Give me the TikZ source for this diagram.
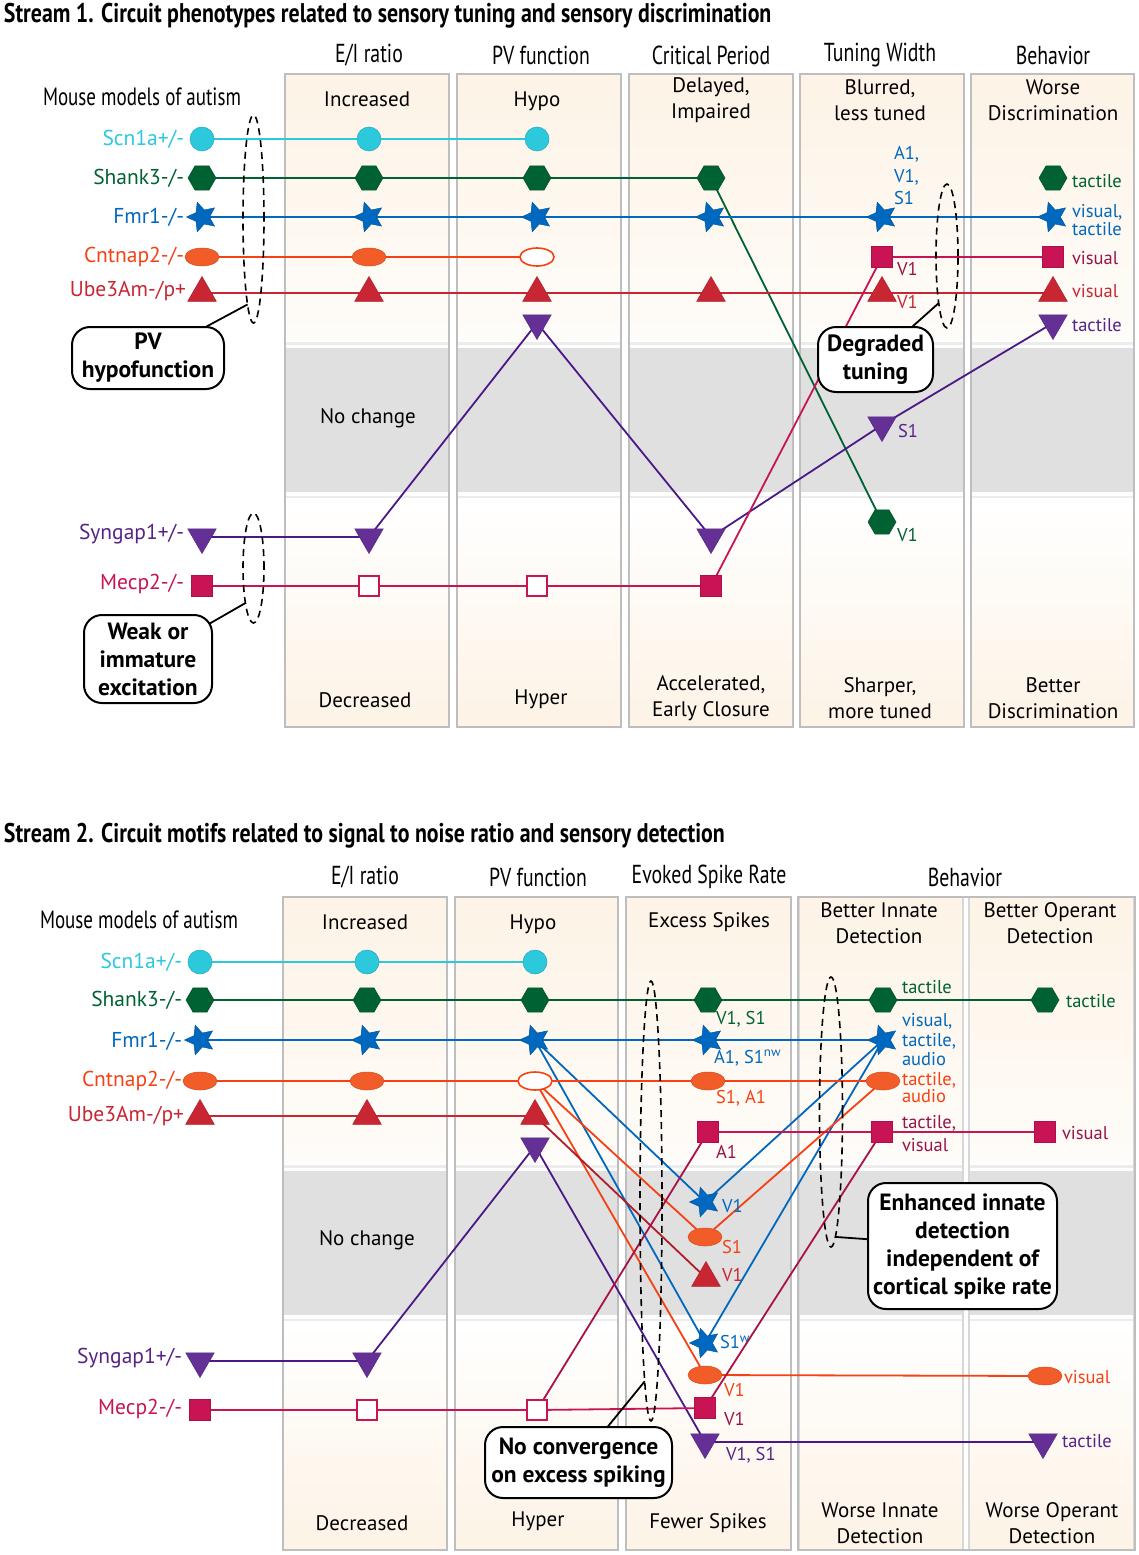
\documentclass[tikz,border=0pt]{standalone}
\usepackage{fontspec}
\setmainfont{PT Sans}
\newfontfamily\condf[FakeStretch=0.76]{PT Sans}
\newfontfamily\titf[FakeStretch=0.81]{PT Sans}
\usetikzlibrary{shapes.geometric}
\newcommand\fsz[2]{\fontsize{#1}{#2}\selectfont}
\definecolor{cScn}{RGB}{44,200,220}
\definecolor{cSha}{RGB}{0,98,50}
\definecolor{cFmr}{RGB}{0,104,190}
\definecolor{cCnt}{RGB}{242,92,40}
\definecolor{cCntL}{RGB}{245,65,20}
\definecolor{cUbe}{RGB}{200,38,50}
\definecolor{cSyn}{RGB}{100,48,150}
\definecolor{cSynL}{RGB}{75,25,135}
\definecolor{cMec}{RGB}{200,20,85}
\definecolor{tMec}{RGB}{150,20,75}
\definecolor{tSyn}{RGB}{85,35,135}
\definecolor{beige}{RGB}{253,243,230}
\definecolor{band}{RGB}{224,224,224}
\definecolor{sepc}{RGB}{236,236,236}
\definecolor{boxgray}{RGB}{190,190,190}
\definecolor{subgray}{RGB}{215,215,215}
\pgfdeclarelayer{bg}
\pgfdeclarelayer{lines}
\pgfsetlayers{bg,lines,main}
\newcommand\colbg[4]{%
 \fill[top color=beige, bottom color=beige!25!white] (#1,74+#3) rectangle (#2,340+#3);
 \draw[sepc, line width=2.5pt] (#1,343.5+#3) -- (#2,343.5+#3);
 \fill[band] (#1,348+#3) rectangle (#2,492+#3);
 \draw[sepc, line width=2.5pt] (#1,497+#3) -- (#2,497+#3);
 \fill[top color=white, bottom color=beige] (#1,500+#3) rectangle (#2,727+#3);
 \draw[#4, line width=1.6pt] (#1,74+#3) rectangle (#2,727+#3);
}
\begin{document}
\begin{tikzpicture}[x=1pt,y=-1pt,
  every node/.style={inner sep=0pt, outer sep=0pt},
  mcirc/.style={circle, minimum size=24pt, fill=#1, draw=#1!85!black, line width=0.5pt},
  mhex/.style={regular polygon, regular polygon sides=6, minimum size=28pt, fill=#1, draw=#1!85!black, line width=0.5pt},
  mstar/.style={star, star points=5, star point ratio=2.1, minimum size=31pt, fill=#1, draw=#1!85!black, line width=0.5pt, shape border rotate=18},
  mell/.style={ellipse, minimum width=34pt, minimum height=18pt, fill=#1, draw=#1!85!black, line width=0.5pt},
  mellO/.style={ellipse, minimum width=34pt, minimum height=18pt, fill=white, draw=#1, line width=1.6pt},
  mtri/.style={regular polygon, regular polygon sides=3, minimum size=33pt, fill=#1, draw=#1!85!black, line width=0.5pt},
  mtrid/.style={mtri=#1, shape border rotate=180},
  msq/.style={rectangle, minimum size=21pt, fill=#1, draw=#1!85!black, line width=0.5pt},
  msqO/.style={rectangle, minimum size=20pt, fill=white, draw=#1, line width=1.6pt},
  ln/.style={draw=#1, line width=1.8pt},
  glab/.style={anchor=east, text=#1, font=\fsz{21.5}{24}},
  slab/.style={anchor=west, text=#1, font=\fsz{18.5}{20}, align=left},
  coltxt/.style={font=\fsz{21}{26}, align=center},
  hdr/.style={font=\condf\fsz{26}{30}},
  ttl/.style={anchor=west, font=\titf\bfseries\fsz{27}{30}},
  callout/.style={draw=black, line width=2pt, rounded corners=18pt, fill=white, font=\bfseries\fsz{23.5}{28}, align=center},
  dell/.style={ellipse, draw=black, line width=1.6pt, dash pattern=on 7pt off 5pt},
  cline/.style={draw=black, line width=1.8pt},
]
\useasboundingbox (0,0) rectangle (1139,1555);
\begin{pgfonlayer}{bg}
\fill[white] (0,0) rectangle (1139,1555);
% stream 1 columns
\colbg{285}{449}{0}{boxgray}
\colbg{457}{621}{0}{boxgray}
\colbg{629}{793}{0}{boxgray}
\colbg{800}{964}{0}{boxgray}
\colbg{971}{1134}{0}{boxgray}
% stream 2 columns
\colbg{283}{447}{823}{boxgray}
\colbg{455}{618}{823}{boxgray}
\colbg{626}{791}{823}{boxgray}
\colbg{799}{963}{823}{subgray}
\colbg{969}{1134}{823}{subgray}
\draw[boxgray, line width=1.6pt] (798,897) rectangle (1135,1550);
\end{pgfonlayer}

% ---------------- titles and headers
\node[ttl] (t1) at (4,16) {Stream 1. Circuit phenotypes related to sensory tuning and sensory discrimination};
\node[ttl] (t2) at (4,836) {Stream 2. Circuit motifs related to signal to noise ratio and sensory detection};
\node[hdr] (h11) at (369,55) {E/I ratio};
\node[hdr] (h12) at (541,55) {PV function};
\node[hdr] (h13) at (711,55) {Critical Period};
\node[hdr] (h14) at (880,55) {Tuning Width};
\node[hdr] (h15) at (1053,55) {Behavior};
\node[hdr] (h21) at (365,877) {E/I ratio};
\node[hdr] (h22) at (538,877) {PV function};
\node[hdr] (h23) at (709,877) {Evoked Spike Rate};
\node[hdr] (h24) at (965,877) {Behavior};
\node[hdr, font=\condf\fsz{25}{30}] (m1) at (142,97) {Mouse models of autism};
\node[hdr, font=\condf\fsz{25}{30}] (m2) at (139,920) {Mouse models of autism};

% column texts stream 1
\node[coltxt] (ct11) at (367,99) {Increased};
\node[coltxt] (ct12) at (537,101) {Hypo};
\node[coltxt] (ct13) at (711,100) {Delayed,\\Impaired};
\node[coltxt] (ct14) at (880,100) {Blurred,\\less tuned};
\node[coltxt] (ct15) at (1053,100) {Worse\\Discrimination};
\node[coltxt] (nc1) at (368,418) {No change};
\node[coltxt] (cb11) at (365,700) {Decreased};
\node[coltxt] (cb12) at (541,699) {Hyper};
\node[coltxt] (cb13) at (711,698) {Accelerated,\\Early Closure};
\node[coltxt] (cb14) at (880,698) {Sharper,\\more tuned};
\node[coltxt] (cb15) at (1053,698) {Better\\Discrimination};
% column texts stream 2
\node[coltxt] (ct21) at (365,922) {Increased};
\node[coltxt] (ct22) at (533,924) {Hypo};
\node[coltxt] (ct23) at (709,922) {Excess Spikes};
\node[coltxt] (ct24) at (879,923) {Better Innate\\Detection};
\node[coltxt] (ct25) at (1050,923) {Better Operant\\Detection};
\node[coltxt] (nc2) at (367,1240) {No change};
\node[coltxt] (cb21) at (362,1523) {Decreased};
\node[coltxt] (cb22) at (538,1521) {Hyper};
\node[coltxt] (cb23) at (708,1523) {Fewer Spikes};
\node[coltxt] (cb24) at (880,1523) {Worse Innate\\Detection};
\node[coltxt] (cb25) at (1052,1523) {Worse Operant\\Detection};

% gene labels
\node[glab=cScn] (ga1) at (184,139) {Scn1a+/-};
\node[glab=cSha] (ga2) at (184,178) {Shank3-/-};
\node[glab=cFmr] (ga3) at (184,217) {Fmr1-/-};
\node[glab=cCntL] (ga4) at (184,257) {Cntnap2-/-};
\node[glab=cUbe] (ga5) at (186,291) {Ube3Am-/p+};
\node[glab=tSyn] (ga6) at (184,534) {Syngap1+/-};
\node[glab=cMec] (ga7) at (184,584) {Mecp2-/-};
\node[glab=cScn] (gb1) at (182,962) {Scn1a+/-};
\node[glab=cSha] (gb2) at (182,1000) {Shank3-/-};
\node[glab=cFmr] (gb3) at (182,1041) {Fmr1-/-};
\node[glab=cCntL] (gb4) at (182,1081) {Cntnap2-/-};
\node[glab=cUbe] (gb5) at (184,1116) {Ube3Am-/p+};
\node[glab=tSyn] (gb6) at (182,1358) {Syngap1+/-};
\node[glab=cMec] (gb7) at (182,1409) {Mecp2-/-};

% ---------------- stream 1 markers
\node[mcirc=cScn] (aScn1) at (202,139) {};
\node[mcirc=cScn] (aScn2) at (369,139) {};
\node[mcirc=cScn] (aScn3) at (537,139) {};
\node[mhex=cSha] (aSha1) at (202,178) {};
\node[mhex=cSha] (aSha2) at (369,178) {};
\node[mhex=cSha] (aSha3) at (537,178) {};
\node[mhex=cSha] (aSha4) at (711,178) {};
\node[mhex=cSha] (aSha5) at (882,522) {};
\node[mhex=cSha] (aSha6) at (1053,178) {};
\node[mstar=cFmr] (aFmr1) at (202,217) {};
\node[mstar=cFmr] (aFmr2) at (369,217) {};
\node[mstar=cFmr] (aFmr3) at (537,217) {};
\node[mstar=cFmr] (aFmr4) at (711,217) {};
\node[mstar=cFmr] (aFmr5) at (882,217) {};
\node[mstar=cFmr] (aFmr6) at (1053,217) {};
\node[mell=cCnt] (aCnt1) at (202,257) {};
\node[mell=cCnt] (aCnt2) at (369,257) {};
\node[mellO=cCntL] (aCnt3) at (537,257) {};
\node[mtri=cUbe] (aUbe1) at (202,293) {};
\node[mtri=cUbe] (aUbe2) at (369,293) {};
\node[mtri=cUbe] (aUbe3) at (537,293) {};
\node[mtri=cUbe] (aUbe4) at (711,293) {};
\node[mtri=cUbe] (aUbe5) at (882,293) {};
\node[mtri=cUbe] (aUbe6) at (1053,293) {};
\node[mtrid=cSyn] (aSyn1) at (202,537) {};
\node[mtrid=cSyn] (aSyn2) at (369,537) {};
\node[mtrid=cSyn] (aSyn3) at (537,323) {};
\node[mtrid=cSyn] (aSyn4) at (711,537) {};
\node[mtrid=cSyn] (aSyn5) at (882,425) {};
\node[mtrid=cSyn] (aSyn6) at (1053,323) {};
\node[msq=cMec] (aMec1) at (202,586) {};
\node[msqO=cMec] (aMec2) at (369,586) {};
\node[msqO=cMec] (aMec3) at (537,586) {};
\node[msq=cMec] (aMec4) at (711,586) {};
\node[msq=cMec] (aMec5) at (882,257) {};
\node[msq=cMec] (aMec6) at (1053,257) {};

\begin{pgfonlayer}{lines}
\draw[ln=cScn] (aScn1.center) -- (aScn2.center) -- (aScn3.center);
\draw[ln=cSha] (aSha1.center) -- (aSha2.center) -- (aSha3.center) -- (aSha4.center) -- (aSha5.center);
\draw[ln=cFmr] (aFmr1.center) -- (aFmr2.center) -- (aFmr3.center) -- (aFmr4.center) -- (aFmr5.center) -- (aFmr6.center);
\draw[ln=cCntL] (aCnt1.center) -- (aCnt2.center) -- (aCnt3.center);
\draw[ln=cUbe] (aUbe1.center) -- (aUbe2.center) -- (aUbe3.center) -- (aUbe4.center) -- (aUbe5.center) -- (aUbe6.center);
\draw[ln=cSynL] (aSyn1.center) -- (aSyn2.center) -- (aSyn3.center) -- (aSyn4.center) -- (aSyn5.center) -- (aSyn6.center);
\draw[ln=cMec] (aMec1.center) -- (aMec2.center) -- (aMec3.center) -- (aMec4.center) -- (aMec5.center) -- (aMec6.center);
\end{pgfonlayer}

% stream 1 small labels
\node[slab=cFmr, font=\fsz{18.5}{22.5}] (la1) at (894,176) {A1,\\V1,\\S1};
\node[slab=tMec] (la2) at (897,269) {V1};
\node[slab=cUbe] (la3) at (897,302) {V1};
\node[slab=tSyn] (la4) at (898,431) {S1};
\node[slab=cSha] (la5) at (897,535) {V1};
\node[slab=cSha] (la6) at (1072,181) {tactile};
\node[slab=cFmr, font=\fsz{18.5}{18}] (la7) at (1072,220) {visual,\\tactile};
\node[slab=tMec] (la8) at (1072,258) {visual};
\node[slab=cUbe] (la9) at (1072,291) {visual};
\node[slab=tSyn] (la10) at (1072,325) {tactile};

% ---------------- stream 2 markers
\node[mcirc=cScn] (bScn1) at (200,962) {};
\node[mcirc=cScn] (bScn2) at (367,962) {};
\node[mcirc=cScn] (bScn3) at (535,962) {};
\node[mhex=cSha] (bSha1) at (200,1000) {};
\node[mhex=cSha] (bSha2) at (367,1000) {};
\node[mhex=cSha] (bSha3) at (535,1000) {};
\node[mhex=cSha] (bSha4) at (708,1000) {};
\node[mhex=cSha] (bSha5) at (883,1000) {};
\node[mhex=cSha] (bSha6) at (1045,1000) {};
\node[mstar=cFmr] (bFmr1) at (200,1040) {};
\node[mstar=cFmr] (bFmr2) at (367,1040) {};
\node[mstar=cFmr] (bFmr3) at (535,1040) {};
\node[mstar=cFmr] (bFmr4) at (708,1040) {};
\node[mstar=cFmr] (bFmr5) at (883,1040) {};
\node[mstar=cFmr] (bFmr6) at (705,1202) {};
\node[mstar=cFmr] (bFmr7) at (705,1343) {};
\node[mell=cCnt] (bCnt1) at (200,1081) {};
\node[mell=cCnt] (bCnt2) at (367,1081) {};
\node[mellO=cCntL] (bCnt3) at (535,1081) {};
\node[mell=cCnt] (bCnt4) at (708,1081) {};
\node[mell=cCnt] (bCnt5) at (883,1081) {};
\node[mell=cCnt] (bCnt6) at (705,1237) {};
\node[mell=cCnt] (bCnt7) at (705,1375) {};
\node[mell=cCnt] (bCnt8) at (1045,1376) {};
\node[mtri=cUbe] (bUbe1) at (200,1116) {};
\node[mtri=cUbe] (bUbe2) at (367,1116) {};
\node[mtri=cUbe] (bUbe3) at (535,1116) {};
\node[mtri=cUbe] (bUbe4) at (706,1278) {};
\node[mtrid=cSyn] (bSyn1) at (200,1361) {};
\node[mtrid=cSyn] (bSyn2) at (367,1361) {};
\node[mtrid=cSyn] (bSyn3) at (535,1146) {};
\node[mtrid=cSyn] (bSyn4) at (705,1442) {};
\node[mtrid=cSyn] (bSyn5) at (1043,1442) {};
\node[msq=cMec] (bMec1) at (200,1410) {};
\node[msqO=cMec] (bMec2) at (367,1410) {};
\node[msqO=cMec] (bMec3) at (537,1410) {};
\node[msq=cMec] (bMec4) at (705,1408) {};
\node[msq=cMec] (bMec5) at (708,1132) {};
\node[msq=cMec] (bMec6) at (882,1132) {};
\node[msq=cMec] (bMec7) at (1045,1132) {};

\begin{pgfonlayer}{lines}
\draw[ln=cScn] (bScn1.center) -- (bScn2.center) -- (bScn3.center);
\draw[ln=cSha] (bSha1.center) -- (bSha2.center) -- (bSha3.center) -- (bSha4.center) -- (bSha5.center) -- (bSha6.center);
\draw[ln=cFmr] (bFmr1.center) -- (bFmr2.center) -- (bFmr3.center) -- (bFmr4.center) -- (bFmr5.center);
\draw[ln=cFmr] (bFmr3.center) -- (bFmr6.center) -- (bFmr5.center);
\draw[ln=cFmr] (bFmr3.center) -- (bFmr7.center) -- (bFmr5.center);
\draw[ln=cCntL] (bCnt1.center) -- (bCnt2.center) -- (bCnt3.center) -- (bCnt4.center) -- (bCnt5.center);
\draw[ln=cCntL] (bCnt3.center) -- (bCnt6.center) -- (bCnt5.center);
\draw[ln=cCntL] (bCnt3.center) -- (bCnt7.center) -- (bCnt8.center);
\draw[ln=cUbe] (bUbe1.center) -- (bUbe2.center) -- (bUbe3.center);
\draw[ln=cUbe!85!black] (bUbe3.center) -- (bUbe4.center);
\draw[ln=cSynL] (bSyn1.center) -- (bSyn2.center) -- (bSyn3.center) -- (bSyn4.center) -- (bSyn5.center);
\draw[ln=cMec] (bMec1.center) -- (bMec2.center) -- (bMec3.center) -- (bMec4.center);
\draw[ln=cMec!85!black] (bMec4.center) -- (bMec6.center);
\draw[ln=cMec!85!black] (bMec3.center) -- (bMec5.center);
\draw[ln=cMec] (bMec5.center) -- (bMec6.center) -- (bMec7.center);
\end{pgfonlayer}

% stream 2 small labels
\node[slab=cSha] (lb1) at (716,1019) {V1, S1};
\node[slab=cFmr] (lb2) at (714,1058) {A1, S1\textsuperscript{nw}};
\node[slab=cCntL] (lb3) at (716,1098) {S1, A1};
\node[slab=tMec] (lb4) at (716,1152) {A1};
\node[slab=cFmr] (lb5) at (722,1206) {V1};
\node[slab=cCntL] (lb6) at (722,1247) {S1};
\node[slab=cUbe] (lb7) at (722,1275) {V1};
\node[slab=cFmr] (lb8) at (720,1342) {S1\textsuperscript{w}};
\node[slab=cCntL] (lb9) at (724,1390) {V1};
\node[slab=tMec] (lb10) at (724,1419) {V1};
\node[slab=tSyn] (lb11) at (726,1455) {V1, S1};
\node[slab=cSha] (lb12) at (902,987) {tactile};
\node[slab=cFmr, font=\fsz{18.5}{19.5}] (lb13) at (902,1040) {visual,\\tactile,\\audio};
\node[slab=cCntL, font=\fsz{18.5}{17}] (lb14) at (902,1088) {tactile,\\audio};
\node[slab=tMec, font=\fsz{18.5}{23}] (lb15) at (902,1134) {tactile,\\visual};
\node[slab=cSha] (lb16) at (1066,1001) {tactile};
\node[slab=tMec] (lb17) at (1062,1133) {visual};
\node[slab=cCntL] (lb18) at (1064,1377) {visual};
\node[slab=tSyn] (lb19) at (1062,1441) {tactile};

% ---------------- dashed groupings
\node[dell, minimum width=21pt, minimum height=208pt] (e1) at (253.5,219) {};
\node[dell, minimum width=21pt, minimum height=110pt] (e2) at (253.5,568) {};
\node[dell, minimum width=22pt, minimum height=144pt] (e3) at (947,256) {};
\node[dell, minimum width=22pt, minimum height=440pt] (e4) at (651,1201) {};
\node[dell, minimum width=23pt, minimum height=270pt] (e5) at (831,1112) {};

% ---------------- callouts
\node[callout, minimum width=152pt, minimum height=62pt] (c1) at (148,358) {PV\\hypofunction};
\node[callout, minimum width=128pt, minimum height=88pt] (c2) at (148,659) {Weak or\\immature\\excitation};
\node[callout, minimum width=115pt, minimum height=65pt] (c3) at (875.5,359.5) {Degraded\\tuning};
\node[callout, minimum width=189pt, minimum height=126pt] (c4) at (962.5,1246) {Enhanced innate\\detection\\independent of\\cortical spike rate};
\node[callout, minimum width=187pt, minimum height=71pt] (c5) at (578.5,1462.5) {No convergence\\on excess spiking};
\begin{pgfonlayer}{lines}
\draw[cline] (e1.266) -- (c1.center);
\draw[cline] (e2.257) -- (c2.center);
\draw[cline] (e3.260) -- (c3.center);
\draw[cline] (e4.268) -- (c5.center);
\draw[cline] (e5.272) -- (c4.center);
\end{pgfonlayer}
\end{tikzpicture}
\end{document}
